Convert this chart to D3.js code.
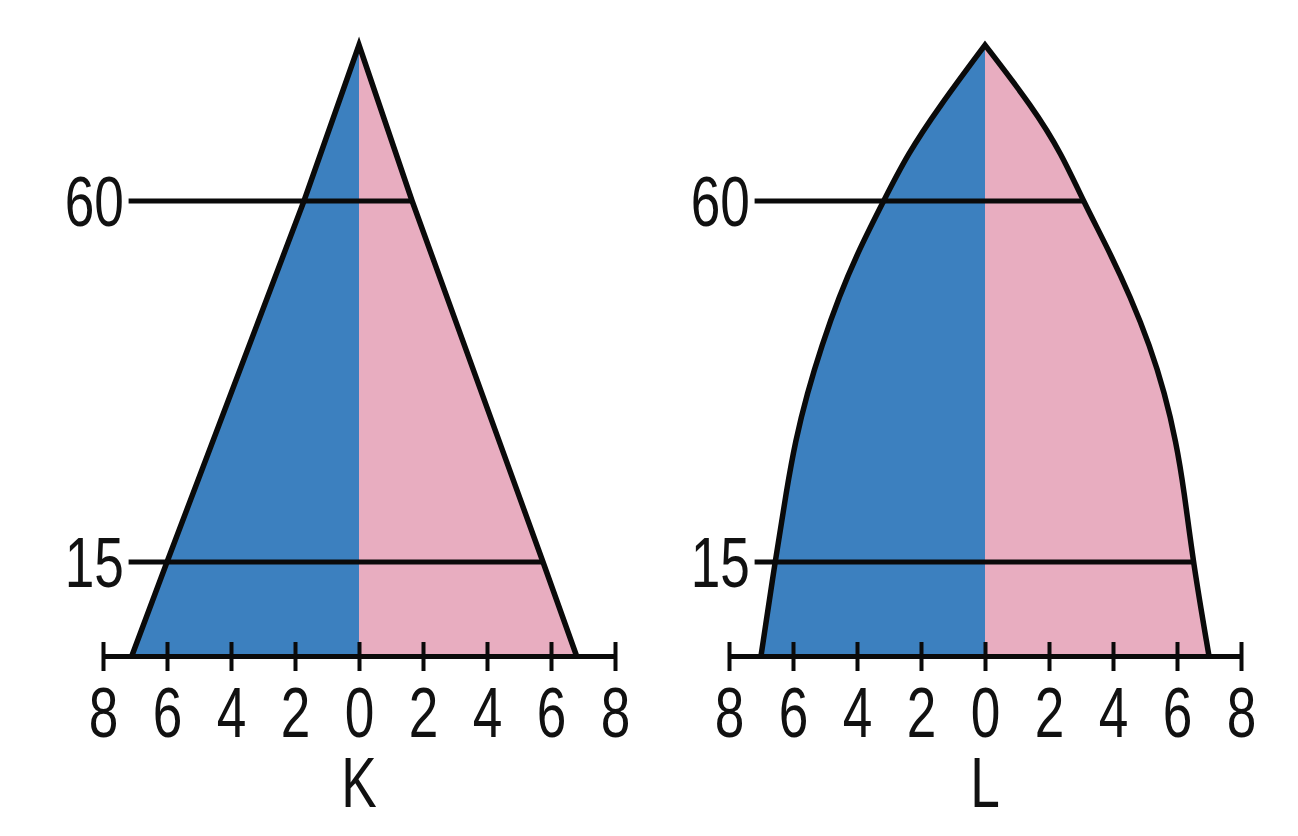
<!DOCTYPE html>
<html lang="en">
    <head>
        <meta charset="utf-8">
        <title>Pyramids</title>
        <script src="https://d3js.org/d3.v7.min.js"></script>
        <style type="text/css">
            body { margin: 0; background: #fff; }

            .axis path,
            .axis line {
                stroke: #0a0a0a;
            }
            .axis path { stroke-width: 5px; }
            .axis line { stroke-width: 4px; }

            .lbl {
                font-family: "Liberation Sans", Arial, sans-serif;
                font-size: 70px;
                fill: #111;
            }

            .edge {
                fill: none;
                stroke: #0a0a0a;
                stroke-width: 5.5px;
                stroke-linejoin: miter;
            }
        </style>
    </head>
    <body>
        <script type="text/javascript">

            const w = 1298;
            const h = 836;

            // age bands and percentages (male left, female right)
            const ageTicks = [15, 60];
            const xTicks = [-8, -6, -4, -2, 0, 2, 4, 6, 8];

            const kAges   = [0, 15, 60, 80];
            const kMale   = [7.1, 6.0, 1.72, 0];
            const kFemale = [6.8, 5.75, 1.66, 0];

            const lAges   = [0, 15, 24, 30, 36, 42, 48, 54, 60, 66, 72, 80];
            const lMale   = [7.0, 6.56, 6.2, 5.93, 5.56, 5.1, 4.57, 3.93, 3.17, 2.42, 1.45, 0];
            const lFemale = [7.0, 6.5, 6.22, 5.97, 5.62, 5.15, 4.55, 3.85, 3.07, 2.4, 1.5, 0];

            const panels = [
                {name: "K", center: 359, ages: kAges, male: kMale, female: kFemale, curve: d3.curveLinear},
                {name: "L", center: 985, ages: lAges, male: lMale, female: lFemale, curve: d3.curveBasis}
            ];

            const blue = "#3c80bf";
            const pink = "#e8adc0";

            // drawing is schematic: age axis stretched piecewise
            const yScale = d3.scaleLinear().domain([0, 15, 60, 80]).range([656, 562, 201, 45]);

            const svg = d3.select("body").append("svg").attr("width", w).attr("height", h);

            panels.forEach(p => {
                const xScale = d3.scaleLinear().domain([-8, 8]).range([p.center - 256, p.center + 256]);
                const rows = p.ages.map((a, i) => ({age: a, m: p.male[i], f: p.female[i]}));

                const g = svg.append("g");

                const maleArea = d3.area().curve(p.curve)
                    .y(d => yScale(d.age))
                    .x0(xScale(0))
                    .x1(d => xScale(-d.m));
                const femaleArea = d3.area().curve(p.curve)
                    .y(d => yScale(d.age))
                    .x0(xScale(0))
                    .x1(d => xScale(d.f));

                g.append("path").attr("d", maleArea(rows)).attr("fill", blue);
                g.append("path").attr("d", femaleArea(rows)).attr("fill", pink);

                // age lines from label to female edge
                ageTicks.forEach(a => {
                    const r = rows.find(d => d.age === a);
                    g.append("line")
                        .attr("x1", xScale(-7.2)).attr("x2", xScale(r.f))
                        .attr("y1", yScale(a)).attr("y2", yScale(a))
                        .attr("stroke", "#0a0a0a").attr("stroke-width", 5);
                    g.append("text")
                        .attr("class", "lbl")
                        .attr("text-anchor", "end")
                        .attr("transform", `translate(${xScale(-7.35)},${yScale(a) + 25}) scale(0.76,1)`)
                        .text(a);
                });

                // outline: male side up to apex, female side down
                const maleLine = d3.line().curve(p.curve).x(d => xScale(-d.m)).y(d => yScale(d.age));
                const femaleLine = d3.line().curve(p.curve).x(d => xScale(d.f)).y(d => yScale(d.age));
                const outline = maleLine(rows) + femaleLine(rows.slice().reverse()).replace(/^M/, "L");
                g.append("path").attr("class", "edge").attr("d", outline);

                const axis = d3.axisBottom(xScale)
                    .tickValues(xTicks)
                    .tickSizeInner(15)
                    .tickSizeOuter(0)
                    .tickFormat(d => Math.abs(d));

                const ax = g.append("g")
                    .attr("class", "axis")
                    .attr("transform", `translate(0,${yScale(0)})`)
                    .call(axis);
                ax.selectAll(".tick line").attr("y1", -14).attr("y2", 15);
                ax.selectAll(".tick text")
                    .attr("class", "lbl")
                    .attr("fill", null)
                    .attr("font-size", null)
                    .attr("font-family", null)
                    .attr("y", 0).attr("dy", null)
                    .attr("transform", "translate(0,81) scale(0.76,1)");
                ax.attr("font-size", null).attr("font-family", null);

                g.append("text")
                    .attr("class", "lbl")
                    .attr("text-anchor", "middle")
                    .attr("transform", `translate(${xScale(0)},807) scale(0.76,1)`)
                    .text(p.name);
            });
        </script>
    </body>
</html>
